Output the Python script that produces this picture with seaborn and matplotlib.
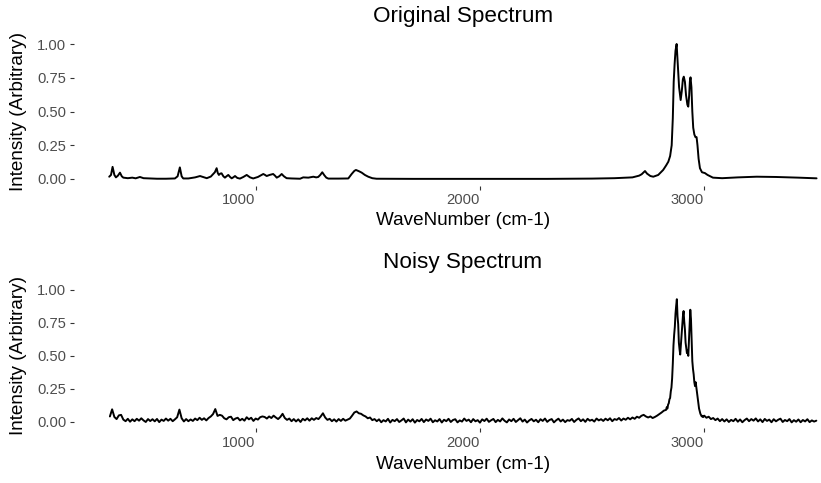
import numpy as np
import pandas as pd
import matplotlib
matplotlib.use("Agg")
import matplotlib.pyplot as plt
import seaborn as sns

# ---------------- data ----------------
orig_wn = [347, 355, 362, 370, 377, 386, 395, 403, 410, 430, 450, 465, 484, 500, 529, 560, 600, 640,
           652, 662, 670, 677, 700, 730, 752, 770, 782, 800, 811, 818, 826, 831, 836, 842, 848, 856,
           863, 870, 878, 886, 893, 900, 908, 918, 930, 945, 960, 975, 989, 1010, 1034, 1042, 1049,
           1062, 1078, 1086, 1094, 1105, 1116, 1126, 1138, 1160, 1198, 1212, 1235, 1257, 1270, 1279,
           1288, 1297, 1306, 1315, 1324, 1370, 1413, 1428, 1440, 1447, 1460, 1473, 1487, 1502, 1520,
           1539, 1700, 2000, 2300, 2500, 2600, 2680, 2710, 2721, 2736, 2745, 2760, 2773, 2795, 2817,
           2830, 2840, 2848, 2855, 2860, 2864, 2868, 2872, 2877, 2882, 2888, 2895, 2900, 2905, 2909,
           2914, 2919, 2925, 2929, 2933, 2936, 2939, 2943, 2947, 2951, 2956, 2961, 2966, 2970, 2975,
           2981, 2990, 3003, 3015, 3039, 3080, 3150, 3234, 3320, 3420, 3501]
orig_int = [0.017, 0.03, 0.09, 0.03, 0.012, 0.025, 0.047, 0.02, 0.01, 0.006, 0.01, 0.005, 0.015, 0.006,
            0.004, 0.002, 0.002, 0.004, 0.02, 0.086, 0.02, 0.004, 0.004, 0.012, 0.022, 0.012, 0.006,
            0.018, 0.037, 0.05, 0.08, 0.045, 0.03, 0.04, 0.042, 0.02, 0.01, 0.02, 0.03, 0.015, 0.005,
            0.012, 0.022, 0.008, 0.003, 0.015, 0.03, 0.012, 0.004, 0.015, 0.037, 0.03, 0.022, 0.03,
            0.037, 0.025, 0.01, 0.02, 0.037, 0.02, 0.006, 0.004, 0.002, 0.012, 0.01, 0.017, 0.012,
            0.015, 0.03, 0.05, 0.028, 0.01, 0.003, 0.003, 0.004, 0.037, 0.06, 0.067, 0.058, 0.047,
            0.03, 0.017, 0.006, 0.002, 0.001, 0.001, 0.001, 0.003, 0.006, 0.012, 0.025, 0.035, 0.059,
            0.04, 0.022, 0.017, 0.03, 0.067, 0.1, 0.128, 0.17, 0.25, 0.45, 0.72, 0.85, 0.95, 1.0,
            0.85, 0.68, 0.585, 0.65, 0.74, 0.758, 0.72, 0.62, 0.55, 0.536, 0.62, 0.72, 0.753, 0.68,
            0.5, 0.38, 0.33, 0.31, 0.31, 0.25, 0.15, 0.08, 0.05, 0.044, 0.03, 0.01, 0.006, 0.012,
            0.017, 0.015, 0.01, 0.005]

# noisy spectrum sampling grid (cm-1): coarse, fine over the C-H band, coarse
noisy_grid_segments = [(350, 2820, 10), (2830, 2995, 3), (3000, 3500, 10)]
noisy_int_low = [
    0.040, 0.094, 0.036, 0.020, 0.048, 0.052, 0.016, 0.004, 0.022, 0.000,
    0.018, 0.004, 0.022, 0.008, 0.026, 0.010, -0.002, 0.020, 0.005, 0.019,
    0.003, 0.021, -0.003, 0.016, 0.006, 0.024, 0.008, 0.022, 0.004, 0.018,
    0.034, 0.092, 0.026, 0.002, 0.020, 0.004, 0.017, 0.006, 0.024, 0.012,
    0.030, 0.014, 0.026, 0.010, 0.028, 0.040, 0.058, 0.096, 0.044, 0.052,
    0.046, 0.026, 0.018, 0.034, 0.038, 0.012, 0.024, 0.030, 0.010, 0.022,
    0.008, 0.034, 0.018, 0.030, 0.006, 0.024, 0.016, 0.034, 0.040, 0.036,
    0.024, 0.040, 0.028, 0.046, 0.032, 0.020, 0.036, 0.060, 0.028, 0.014,
    0.024, 0.004, 0.020, 0.002, 0.018, -0.002, 0.022, 0.010, 0.026, 0.008,
    0.026, 0.014, 0.028, 0.020, 0.040, 0.064, 0.032, 0.014, 0.022, 0.004,
    0.018, 0.001, 0.020, 0.006, 0.022, 0.008, 0.016, 0.024, 0.046, 0.070,
    0.078, 0.064, 0.060, 0.048, 0.040, 0.026, 0.032, 0.012, 0.020, 0.004,
    0.018, -0.004, 0.012, 0.002, 0.022, -0.006, 0.014, 0.004, 0.020, -0.002,
    0.010, 0.024, -0.005, 0.016, 0.001, 0.019, -0.007, 0.013, 0.003, 0.021,
    -0.003, 0.017, 0.006, 0.023, -0.004, 0.011, 0.002, 0.020, -0.006, 0.015,
    0.004, 0.022, -0.002, 0.013, 0.019, -0.005, 0.010, 0.001, 0.024, 0.006,
    0.016, -0.004, 0.020, 0.003, 0.012, -0.007, 0.018, 0.005, 0.023, -0.001,
    0.011, 0.021, -0.003, 0.014, 0.002, 0.025, 0.007, -0.005, 0.017, 0.004,
    0.022, -0.002, 0.012, 0.026, 0.001, 0.016, -0.006, 0.010, 0.021, 0.003,
    0.015, -0.004, 0.019, 0.006, 0.024, -0.001, 0.013, 0.020, -0.005, 0.011,
    0.023, 0.002, 0.016, -0.003, 0.012, 0.007, 0.021, -0.002, 0.014, 0.025,
    0.004, 0.018, -0.001, 0.022, 0.008, 0.015, 0.001, 0.024, 0.010, 0.019,
    0.006, 0.023, 0.011, 0.026, 0.004, 0.020, 0.014, 0.028, 0.009, 0.024,
    0.015, 0.030, 0.018, 0.032, 0.022, 0.038, 0.030, 0.045, 0.052, 0.040,
    0.032, 0.040, 0.028, 0.036, 0.046, 0.058, 0.070, 0.084]
noisy_int_band = [
    0.09, 0.11, 0.10, 0.13, 0.14, 0.17, 0.18, 0.23, 0.26, 0.33,
    0.44, 0.58, 0.66, 0.72, 0.82, 0.88, 0.93, 0.80, 0.74, 0.60,
    0.55, 0.51, 0.58, 0.66, 0.72, 0.80, 0.84, 0.76, 0.70, 0.60,
    0.56, 0.52, 0.54, 0.50, 0.62, 0.74, 0.85, 0.78, 0.62, 0.46,
    0.40, 0.36, 0.30, 0.27, 0.30, 0.26, 0.22, 0.18, 0.14, 0.10,
    0.08, 0.06, 0.05, 0.04, 0.045, 0.035]
noisy_int_high = [
    0.046, 0.030, 0.038, 0.020, 0.028, 0.012, 0.024, 0.004, 0.020, 0.002,
    0.018, -0.002, 0.014, 0.004, 0.022, 0.000, 0.017, -0.004, 0.012, 0.024,
    0.004, 0.020, 0.008, 0.025, 0.002, 0.018, -0.003, 0.021, 0.006, 0.016,
    -0.004, 0.019, 0.003, 0.015, 0.023, -0.002, 0.013, 0.004, 0.020, -0.005,
    0.012, 0.000, 0.017, -0.004, 0.013, 0.002, 0.019, -0.003, 0.010, 0.001,
    0.008]

x_ticks = [1000, 2000, 3000]
y_ticks = [0.00, 0.25, 0.50, 0.75, 1.00]
y_tick_labels = ["0.00", "0.25", "0.50", "0.75", "1.00"]
titles = ["Original Spectrum", "Noisy Spectrum"]
x_title = "WaveNumber (cm-1)"
y_title = "Intensity (Arbitrary)"

# ---------------- frames ----------------
df_orig = pd.DataFrame({"wn": orig_wn, "intensity": orig_int})
noisy_wn = np.concatenate([np.arange(a, b + 1, s) for a, b, s in noisy_grid_segments])
df_noisy = pd.DataFrame({"wn": noisy_wn,
                         "intensity": noisy_int_low + noisy_int_band + noisy_int_high})

# ---------------- style ----------------
sns.set_theme(style="white")
plt.rcParams["font.family"] = ["Liberation Sans", "DejaVu Sans"]

W, H = 821, 483
fig = plt.figure(figsize=(W / 100, H / 100), dpi=100)
fig.patch.set_facecolor("white")

left_px, right_px = 74, 852
panels = [
    # (df, top_px, bottom_px, title pad)
    (df_orig, 37.25, 185.75, 11.0),
    (df_noisy, 283.4, 428.3, 11.3),
]
xlab_top_px = [212, 456]

for i, (df, top_px, bot_px, tpad) in enumerate(panels):
    ax = fig.add_axes([left_px / W, 1 - bot_px / H,
                       (right_px - left_px) / W, (bot_px - top_px) / H])
    sns.lineplot(data=df, x="wn", y="intensity", ax=ax, color="black",
                 linewidth=1.4, estimator=None)
    ax.set_xlim(190, 3659)
    ax.set_ylim(-0.05, 1.05)
    for s in ax.spines.values():
        s.set_visible(False)
    ax.set_facecolor("white")
    ax.grid(False)
    ax.set_xticks(x_ticks)
    ax.set_xticklabels([str(t) for t in x_ticks], ha="right")
    ax.set_yticks(y_ticks)
    ax.set_yticklabels(y_tick_labels)
    ax.tick_params(axis="both", which="major", direction="out", length=3.0,
                   width=0.8, color="#333333", labelcolor="#4D4D4D",
                   labelsize=10.6, pad=2.4, bottom=True, left=True)
    ax.set_title(titles[i], fontsize=16.2, color="black", pad=tpad)
    ax.set_xlabel(x_title, fontsize=13.6, color="black", va="top")
    ax.set_ylabel(y_title, fontsize=13.6, color="black")
    hpx = bot_px - top_px
    ax.xaxis.set_label_coords(((463 - left_px) / (right_px - left_px)),
                              -(xlab_top_px[i] - bot_px) / hpx)
    ax.yaxis.set_label_coords(-(left_px - 27) / (right_px - left_px), 0.5)

fig.savefig("out.png", dpi=100, facecolor="white")
